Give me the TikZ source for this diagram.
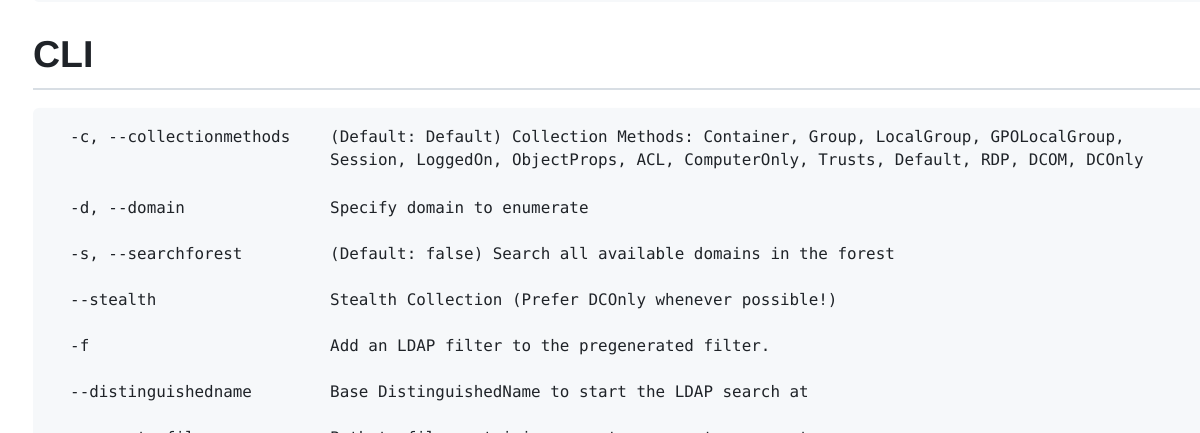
\documentclass[tikz,border=0pt]{standalone}
\usepackage{fontspec}
\setmainfont{Liberation Sans}
\setmonofont{DejaVu Sans Mono}
\begin{document}
\begin{tikzpicture}[x=1pt,y=-1pt,
  opt/.style={anchor=base west,inner sep=0pt,text=txt,font=\ttfamily\fontsize{15.9}{22}\selectfont},
  ]
\definecolor{txt}{HTML}{1F2328}
\definecolor{codebg}{HTML}{F6F8FA}
\definecolor{rule}{HTML}{D8DEE4}
\useasboundingbox (0,0) rectangle (1200,433);
\clip (0,0) rectangle (1200,433);
\fill[codebg,rounded corners=6pt] (33,-20) rectangle (1230,2);
\node[anchor=base west,inner sep=0pt,text=txt,font=\bfseries\fontsize{37.5}{40}\selectfont] (h) at (33,68) {CLI};
\draw[rule,line width=1.5pt] (33,89) -- (1210,89);
\fill[codebg,rounded corners=6pt] (33,108) rectangle (1230,460);
\node[opt] (o1) at (70,143) {-c, --collectionmethods};
\node[opt] (d1) at (330,143) {(Default: Default) Collection Methods: Container, Group, LocalGroup, GPOLocalGroup,};
\node[opt] (d1b) at (330,166) {Session, LoggedOn, ObjectProps, ACL, ComputerOnly, Trusts, Default, RDP, DCOM, DCOnly};
\node[opt] (o2) at (70,213) {-d, --domain};
\node[opt] (d2) at (330,213) {Specify domain to enumerate};
\node[opt] (o3) at (70,259) {-s, --searchforest};
\node[opt] (d3) at (330,259) {(Default: false) Search all available domains in the forest};
\node[opt] (o4) at (70,305) {--stealth};
\node[opt] (d4) at (330,305) {Stealth Collection (Prefer DCOnly whenever possible!)};
\node[opt] (o5) at (70,351) {-f};
\node[opt] (d5) at (330,351) {Add an LDAP filter to the pregenerated filter.};
\node[opt] (o6) at (70,397) {--distinguishedname};
\node[opt] (d6) at (330,397) {Base DistinguishedName to start the LDAP search at};
\node[opt] (o7) at (70,443) {--computerfile};
\node[opt] (d7) at (330,443) {Path to file containing computer names to enumerate};
\end{tikzpicture}
\end{document}
